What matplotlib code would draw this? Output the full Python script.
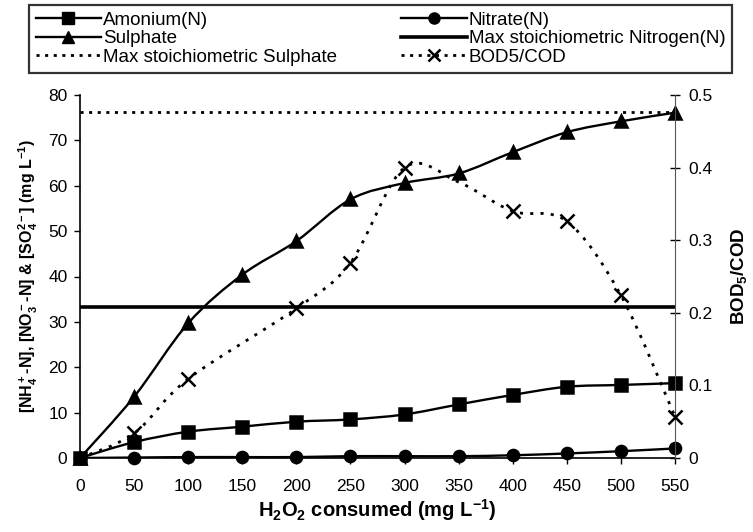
import numpy as np
import matplotlib
matplotlib.use('Agg')
import matplotlib.pyplot as plt
from matplotlib.path import Path
from matplotlib.patches import PathPatch
from matplotlib.lines import Line2D

plt.rcParams['font.family'] = ['Liberation Sans', 'DejaVu Sans']
plt.rcParams['mathtext.default'] = 'regular'

# data
h2o2 = [0, 50, 100, 150, 200, 250, 300, 350, 400, 450, 500, 550]
amonium = [0, 3.5, 5.8, 6.9, 8.0, 8.5, 9.6, 11.8, 13.9, 15.7, 16.1, 16.5]
nitrate = [0, 0.1, 0.2, 0.2, 0.2, 0.4, 0.4, 0.4, 0.6, 1.0, 1.5, 2.1]
sulphate = [0, 13.5, 29.7, 40.4, 47.8, 57.0, 60.6, 62.7, 67.4, 71.8, 74.2, 76.1]
max_nitrogen = 33.2
max_sulphate = 76.2

bod_x = [0, 50, 100, 200, 250, 300, 350, 400, 450, 500, 550]
bod_cod = [0, 0.034, 0.109, 0.206, 0.269, 0.40, 0.38, 0.340, 0.326, 0.224, 0.057]
bod_hidden = 350  # point sits under the sulphate triangle, no marker shown

xticks = list(range(0, 551, 50))
left_ticks = list(range(0, 81, 10))
right_ticks = [0, 0.1, 0.2, 0.3, 0.4, 0.5]
right_ticklabels = ['0', '0.1', '0.2', '0.3', '0.4', '0.5']


def smooth_path(xs, ys):
    # excel-like smoothed line as cubic bezier segments
    pts = np.column_stack([xs, ys]).astype(float)
    n = len(pts)
    verts = [pts[0]]
    codes = [Path.MOVETO]
    for i in range(n - 1):
        p0 = pts[i - 1] if i > 0 else pts[i]
        p1 = pts[i]
        p2 = pts[i + 1]
        p3 = pts[i + 2] if i + 2 < n else pts[i + 1]
        c1 = p1 + (p2 - p0) / 6.0
        c2 = p2 - (p3 - p1) / 6.0
        verts += [c1, c2, p2]
        codes += [Path.CURVE4] * 3
    return Path(verts, codes)


def draw_series(ax, xs, ys, marker, ls='-', lw=1.7, ms=8, markevery=None):
    ax.add_patch(PathPatch(smooth_path(xs, ys), fill=False, ec='black',
                           lw=lw, ls=ls, zorder=3))
    ax.plot(xs, ys, ls='none', marker=marker, color='black', ms=ms,
            markeredgewidth=1.8, markevery=markevery, zorder=4,
            clip_on=False)


fig = plt.figure(figsize=(7.53, 5.32), dpi=100)
ax = fig.add_axes([80 / 753, 1 - 458 / 532, 595 / 753, 363 / 532])
ax2 = ax.twinx()

dots = (0, (1.1, 2.0))
ax.axhline(max_sulphate, color='black', ls=dots, lw=2.0, zorder=2)
ax.axhline(max_nitrogen, color='black', ls='-', lw=2.6, zorder=2)
draw_series(ax, h2o2, sulphate, '^', ms=9)
draw_series(ax, h2o2, amonium, 's')
draw_series(ax, h2o2, nitrate, 'o')

keep = [i for i, v in enumerate(bod_x) if v != bod_hidden and v != 0]
draw_series(ax2, bod_x, bod_cod, 'x', ls=(0, (1.1, 2.6)), lw=2.0, ms=10,
            markevery=keep)

ax.set_xlim(0, 550)
ax.set_ylim(0, 80)
ax2.set_ylim(0, 0.5)
ax.set_xticks(xticks)
ax.set_yticks(left_ticks)
ax2.set_yticks(right_ticks)
ax2.set_yticklabels(right_ticklabels)

for a in (ax, ax2):
    a.spines['top'].set_visible(False)
    a.tick_params(labelsize=12.5, width=1, length=4, colors='black')
ax.tick_params(axis='x', pad=11)
ax.tick_params(axis='y', pad=5)
ax2.tick_params(axis='y', direction='inout', length=7, pad=6)
ax.spines['right'].set_visible(False)
ax2.spines['left'].set_visible(False)
ax2.spines['bottom'].set_visible(False)
ax2.spines['right'].set_color('#555555')
ax.spines['left'].set_linewidth(1.2)
ax.spines['bottom'].set_linewidth(1.2)

ax.set_xlabel('H$_2$O$_2$ consumed (mg L$^{-1}$)', fontsize=14.5,
              fontweight='bold', labelpad=2)
ax.set_ylabel('[NH$_4^+$-N], [NO$_3^-$-N] & [SO$_4^{2-}$] (mg L$^{-1}$)',
              fontsize=11.5, fontweight='bold', labelpad=6)
ax2.set_ylabel('BOD$_5$/COD', fontsize=13.5, fontweight='bold', labelpad=12)

handles = [
    Line2D([], [], color='black', lw=1.7, marker='s', ms=8),
    Line2D([], [], color='black', lw=1.7, marker='^', ms=9),
    Line2D([], [], color='black', lw=2.0, ls=dots),
    Line2D([], [], color='black', lw=1.7, marker='o', ms=8),
    Line2D([], [], color='black', lw=2.6),
    Line2D([], [], color='black', lw=2.0, ls=dots, marker='x',
           ms=9, markeredgewidth=1.8),
]
labels = ['Amonium(N)', 'Sulphate', 'Max stoichiometric Sulphate',
          'Nitrate(N)', 'Max stoichiometric Nitrogen(N)', 'BOD5/COD']
leg = fig.legend(handles, labels, ncol=2, loc='upper left',
                 bbox_to_anchor=(29 / 753, 1 - 5 / 532, 703 / 753, 0),
                 mode='expand', fontsize=13.5, handlelength=3.5,
                 handletextpad=0.1, labelspacing=0.08, borderpad=0.35,
                 frameon=True, fancybox=False, edgecolor='black',
                 borderaxespad=0)
leg.get_frame().set_linewidth(1.6)

fig.savefig('out.png', dpi=100)
